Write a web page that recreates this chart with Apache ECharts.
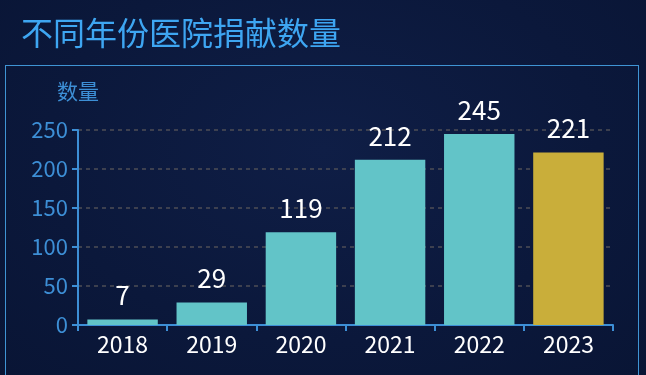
<!DOCTYPE html>
<html>
<head>
<meta charset="utf-8">
<script src="https://cdn.jsdelivr.net/npm/echarts@6/dist/echarts.min.js"></script>
<style>
html,body{margin:0;padding:0;width:646px;height:375px;overflow:hidden;background:#0c1a3e;}
#bg{position:absolute;left:0;top:0;width:646px;height:375px;
background:radial-gradient(ellipse at 50% 40%, #0f1e46 0%, #0b183b 60%, #091535 100%);}
#box{position:absolute;left:5px;top:65px;width:634px;height:330px;border:1.5px solid #3f94d4;border-bottom:none;box-sizing:border-box;}
#chart{position:absolute;left:0;top:0;width:646px;height:375px;}
</style>
</head>
<body>
<div id="bg"></div>
<div id="box"></div>
<div id="chart"></div>
<script>
var title = '不同年份医院捐献数量';
var yAxisName = '数量';
var categories = ['2018','2019','2020','2021','2022','2023'];
var values = [7, 29, 119, 212, 245, 221];
var highlightCategory = '2023';
var yTicks = [0, 50, 100, 150, 200, 250];

var chart = echarts.init(document.getElementById('chart'), null, {renderer:'canvas'});
var font = '"Noto Sans CJK SC", "Noto Sans", sans-serif';
chart.setOption({
  backgroundColor: 'transparent',
  title: {
    text: title, left: 16, top: 12,
    textStyle: {color:'#3ea6f2', fontSize: 32, fontWeight: 'normal', fontFamily: font}
  },
  grid: {left: 78, right: 33, top: 130, bottom: 50},
  xAxis: {
    type: 'category', data: categories,
    axisLine: {lineStyle: {color:'#3d8fd6', width: 2}},
    axisTick: {show: true, length: 6, lineStyle: {color:'#3d8fd6', width: 2}},
    axisLabel: {color:'#ffffff', fontSize: 23, margin: 8, fontFamily: font}
  },
  yAxis: {
    type: 'value', min: yTicks[0], max: yTicks[yTicks.length-1], interval: 50,
    name: yAxisName, nameGap: 28,
    nameTextStyle: {color:'#3d8fd6', fontSize: 21, fontFamily: font, padding:[0,0,0,0]},
    axisLine: {show: true, lineStyle: {color:'#3d8fd6', width: 2}},
    axisTick: {show: true, length: 6, lineStyle: {color:'#3d8fd6', width: 2}},
    axisLabel: {color:'#3d8fd6', fontSize: 22, margin: 10, fontFamily: font},
    splitLine: {show: true, lineStyle: {color:'#4e4e55', type:[4,4], width: 1.5}}
  },
  series: [{
    type: 'bar', barWidth: '79%',
    data: values.map(function(v, i){
      return {value: v, itemStyle: {color: categories[i] === highlightCategory ? '#c9ae3a' : '#62c4c8'}};
    }),
    label: {show: true, position: 'top', distance: 11, color:'#ffffff', fontSize: 26, fontFamily: font}
  }]
});
</script>
</body>
</html>
